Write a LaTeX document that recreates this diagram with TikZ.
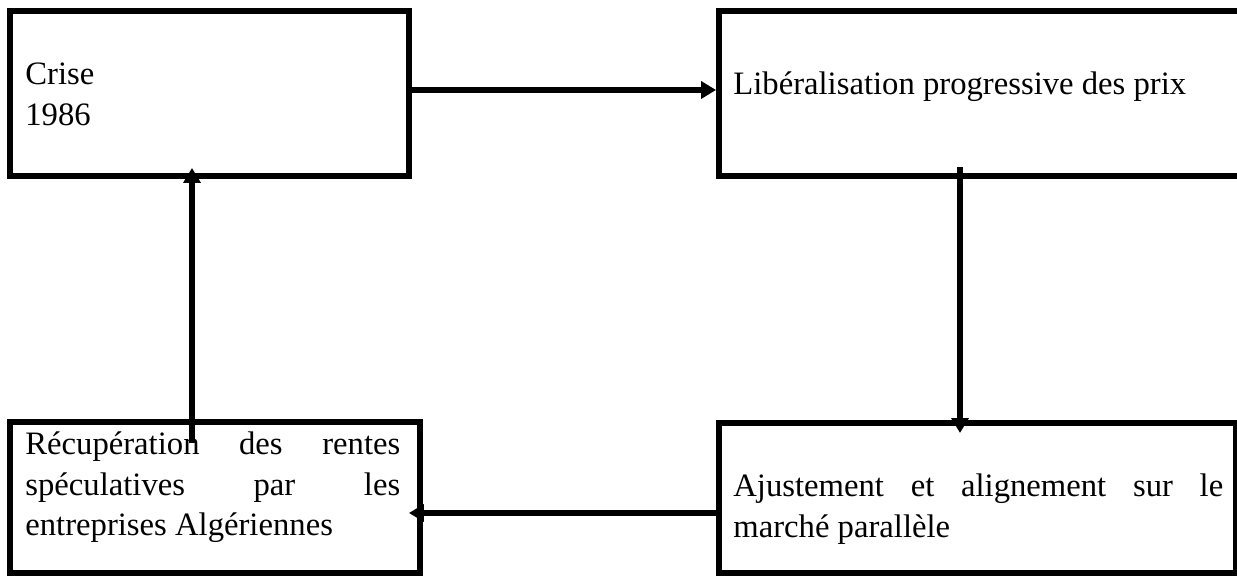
\documentclass[tikz,border=0pt]{standalone}
\usepackage{fontspec}
\setmainfont{Liberation Serif}
\usepackage{tikz}
\usetikzlibrary{arrows.meta}
\tikzset{
mybox/.style={
  draw,
  line width=3.4pt,
  outer sep=0pt,
  inner sep=0pt
  },
mytxt/.style={
  inner sep=0pt,
  anchor=base west,
  font=\fontsize{18.6pt}{23pt}\selectfont
  }
}

\begin{document}
\begin{tikzpicture}[>={Triangle[length=8.5pt,width=9.6pt]}, x=0.02cm, y=0.02cm]
\useasboundingbox (0,0) rectangle (1237,577);

\node[mybox, minimum width=7.98cm, minimum height=3.3cm]
at (209.5,483.5)
(crise) {};
\node[mybox, minimum width=10.52cm, minimum height=3.3cm]
at (982,483.5)
(lib) {};
\node[mybox, minimum width=10.34cm, minimum height=3cm]
at (977.5,79)
(ajust) {};
\node[mybox, minimum width=8.2cm, minimum height=3.02cm]
at (215,79.5)
(recup) {};

\node[mytxt, text width=7cm, align=left]
at (25,492)
(crisetxt) {Crise\\1986};
\node[mytxt]
at (733,482)
(libtxt) {Libéralisation progressive des prix};
\node[mytxt, text width=9.8cm, align=justify]
at (733,80)
(ajusttxt) {Ajustement et alignement sur le\linebreak marché parallèle};
\node[mytxt, text width=7.5cm, align=justify]
at (25,122)
(recuptxt) {Récupération des rentes\linebreak spéculatives par les\linebreak entreprises Algériennes};

\begin{scope}[line width=3.4pt]
\draw[->]
  ([shift={(0,3.5)}]crise.east) -- ([shift={(-3,3.5)}]lib.west);
\draw[->]
  ([shift={(-22,9)}]lib.south) -- ([shift={(-17.5,-10)}]ajust.north);
\draw[->]
  ([shift={(0,-15)}]ajust.west) -- ([shift={(-11,-15.5)}]recup.east);
\draw[->]
  ([shift={(-23,-21)}]recup.north) -- ([shift={(-17.5,8)}]crise.south);
\end{scope}
\end{tikzpicture}
\end{document}
